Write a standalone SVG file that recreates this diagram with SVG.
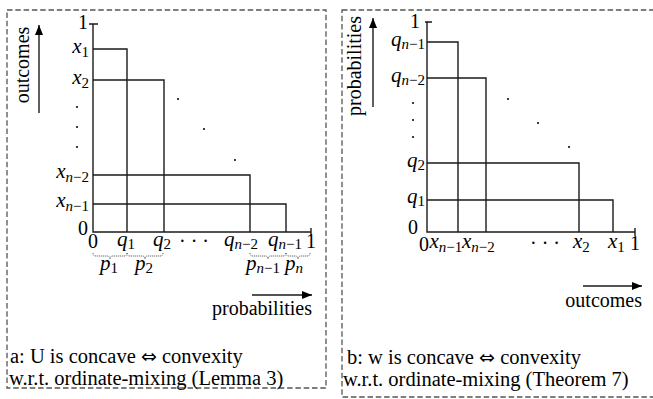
<svg xmlns="http://www.w3.org/2000/svg" width="653" height="399" viewBox="0 0 653 399">
<style>
.t{font-family:"Liberation Serif","Times New Roman",serif;font-size:20px;fill:#000}
.c{font-size:20.5px}
.v{font-style:italic;font-size:21px}
.s{font-size:15px;font-style:normal}
.i{font-style:italic}
.arr{font-family:"DejaVu Sans","DejaVu Serif",sans-serif;font-size:19px}
.frame{fill:none;stroke:#555;stroke-width:1.3;stroke-dasharray:5.5 2.8}
.ln{fill:none;stroke:#1a1a1a;stroke-width:1.4}
.br{fill:none;stroke:#444;stroke-width:1;stroke-dasharray:1 1}
.dot{fill:#111}
</style>
<defs>
<marker id="ah" viewBox="0 0 10 8" refX="10" refY="4" markerWidth="10" markerHeight="8" markerUnits="userSpaceOnUse" orient="auto">
<path d="M0,0 L10,4 L0,8 Z" fill="#000"/>
</marker>
</defs>

<g id="panel-a">
<rect class="frame" x="7" y="10" width="319" height="378"/>
<g id="a-axes">
<path class="ln" d="M93,24 V232 H311 M89,24 H98 M311,228 V236"/>
</g>
<g id="a-steps">
<path class="ln" d="M93,49 H127 V232 M93,80 H164 V232 M93,175 H250 V232 M93,204 H286 V232"/>
</g>
<g id="a-dots">
<circle class="dot" cx="178" cy="99" r="1.1"/>
<circle class="dot" cx="204" cy="129" r="1.1"/>
<circle class="dot" cx="235" cy="160" r="1.1"/>
<circle class="dot" cx="77" cy="107" r="1.1"/>
<circle class="dot" cx="77" cy="127" r="1.1"/>
<circle class="dot" cx="77" cy="147" r="1.1"/>
</g>
<g id="a-ylabels">
<text class="t" x="88" y="29" text-anchor="end">1</text>
<text class="t" x="89" y="53" text-anchor="end"><tspan class="v">x</tspan><tspan class="s" dy="4">1</tspan></text>
<text class="t" x="89" y="84" text-anchor="end"><tspan class="v">x</tspan><tspan class="s" dy="4">2</tspan></text>
<text class="t" x="89" y="178" text-anchor="end"><tspan class="v">x</tspan><tspan class="s" dy="4"><tspan class="i">n</tspan>−2</tspan></text>
<text class="t" x="89" y="207" text-anchor="end"><tspan class="v">x</tspan><tspan class="s" dy="4"><tspan class="i">n</tspan>−1</tspan></text>
<text class="t" x="88" y="235" text-anchor="end">0</text>
</g>
<g id="a-xlabels">
<text class="t" x="93" y="248" text-anchor="middle">0</text>
<text class="t" x="126" y="246" text-anchor="middle"><tspan class="v">q</tspan><tspan class="s" dy="3">1</tspan></text>
<text class="t" x="162" y="246" text-anchor="middle"><tspan class="v">q</tspan><tspan class="s" dy="3">2</tspan></text>
<text class="t" x="194" y="248" text-anchor="middle">·  ·  ·</text>
<text class="t" x="241" y="246" text-anchor="middle"><tspan class="v">q</tspan><tspan class="s" dy="3"><tspan class="i">n</tspan>−2</tspan></text>
<text class="t" x="285" y="246" text-anchor="middle"><tspan class="v">q</tspan><tspan class="s" dy="3"><tspan class="i">n</tspan>−1</tspan></text>
<text class="t" x="311" y="248" text-anchor="middle">1</text>
</g>
<g id="a-braces">
<path class="br" d="M93,253 Q93,256 96,256 H107 Q110,256 110,259 Q110,256 113,256 H124 Q127,256 127,253"/>
<path class="br" d="M127,253 Q127,256 130,256 H142 Q145,256 145,259 Q145,256 148,256 H160 Q163,256 163,253"/>
<path class="br" d="M250,253 Q250,256 253,256 H265 Q268,256 268,259 Q268,256 271,256 H283 Q286,256 286,253"/>
<path class="br" d="M286,253 Q286,256 289,256 H295 Q298,256 298,259 Q298,256 301,256 H307 Q310,256 310,253"/>
</g>
<g id="a-plabels">
<text class="t" x="109" y="270" text-anchor="middle"><tspan class="v">p</tspan><tspan class="s" dy="3">1</tspan></text>
<text class="t" x="144" y="270" text-anchor="middle"><tspan class="v">p</tspan><tspan class="s" dy="3">2</tspan></text>
<text class="t" x="263" y="270" text-anchor="middle"><tspan class="v">p</tspan><tspan class="s" dy="3"><tspan class="i">n</tspan>−1</tspan></text>
<text class="t" x="294" y="270" text-anchor="middle"><tspan class="v">p</tspan><tspan class="s i" dy="3">n</tspan></text>
</g>
<g id="a-axis-titles">
<text class="t" transform="translate(29,65) rotate(-90)" text-anchor="middle">outcomes</text>
<text class="t" x="312" y="315" text-anchor="end">probabilities</text>
</g>
<g id="a-caption">
<text class="t c" x="10" y="363">a: U is concave <tspan class="arr">⇔</tspan> convexity</text>
<text class="t c" x="9" y="385">w.r.t. ordinate-mixing (Lemma 3)</text>
</g>
</g>

<g id="panel-b">
<rect class="frame" x="342" y="10" width="320" height="387"/>
<g id="b-axes">
<path class="ln" d="M427,22 V232 H635 M425,22 H432 M635,228 V236"/>
</g>
<g id="b-steps">
<path class="ln" d="M427,42 H458 V232 M427,78 H486 V232 M427,163 H579 V232 M427,200 H613 V232"/>
</g>
<g id="b-dots">
<circle class="dot" cx="508" cy="99" r="1.1"/>
<circle class="dot" cx="538" cy="123" r="1.1"/>
<circle class="dot" cx="569" cy="147" r="1.1"/>
<circle class="dot" cx="413" cy="103" r="1.1"/>
<circle class="dot" cx="413" cy="120" r="1.1"/>
<circle class="dot" cx="413" cy="137" r="1.1"/>
</g>
<g id="b-ylabels">
<text class="t" x="420" y="28" text-anchor="end">1</text>
<text class="t" x="425" y="46" text-anchor="end"><tspan class="v">q</tspan><tspan class="s" dy="3"><tspan class="i">n</tspan>−1</tspan></text>
<text class="t" x="425" y="82" text-anchor="end"><tspan class="v">q</tspan><tspan class="s" dy="3"><tspan class="i">n</tspan>−2</tspan></text>
<text class="t" x="425" y="167" text-anchor="end"><tspan class="v">q</tspan><tspan class="s" dy="3">2</tspan></text>
<text class="t" x="425" y="203" text-anchor="end"><tspan class="v">q</tspan><tspan class="s" dy="3">1</tspan></text>
<text class="t" x="418" y="234" text-anchor="end">0</text>
</g>
<g id="b-xlabels">
<text class="t" x="419" y="251">0</text>
<text class="t" x="429.5" y="248"><tspan class="v">x</tspan><tspan class="s" dy="4"><tspan class="i">n</tspan>−1</tspan></text>
<text class="t" x="462" y="248"><tspan class="v">x</tspan><tspan class="s" dy="4"><tspan class="i">n</tspan>−2</tspan></text>
<text class="t" x="545" y="250" text-anchor="middle">·  ·  ·</text>
<text class="t" x="573" y="248"><tspan class="v">x</tspan><tspan class="s" dy="4">2</tspan></text>
<text class="t" x="608" y="248"><tspan class="v">x</tspan><tspan class="s" dy="4">1</tspan></text>
<text class="t" x="635" y="250" text-anchor="middle">1</text>
</g>
<g id="b-axis-titles">
<text class="t" transform="translate(361,66) rotate(-90)" text-anchor="middle">probabilities</text>
<text class="t" x="642" y="307" text-anchor="end">outcomes</text>
</g>
<g id="b-caption">
<text class="t c" x="347" y="364">b: w is concave <tspan class="arr">⇔</tspan> convexity</text>
<text class="t c" x="343" y="386">w.r.t. ordinate-mixing (Theorem 7)</text>
</g>
</g>

<g id="connectors">
<line class="ln" x1="39" y1="113" x2="39" y2="25" stroke="#000" marker-end="url(#ah)"/>
<line class="ln" x1="252" y1="295" x2="312" y2="295" stroke="#000" marker-end="url(#ah)"/>
<line class="ln" x1="373" y1="107" x2="373" y2="18" stroke="#000" marker-end="url(#ah)"/>
<line class="ln" x1="583" y1="286" x2="642" y2="286" stroke="#000" marker-end="url(#ah)"/>
</g>
</svg>
